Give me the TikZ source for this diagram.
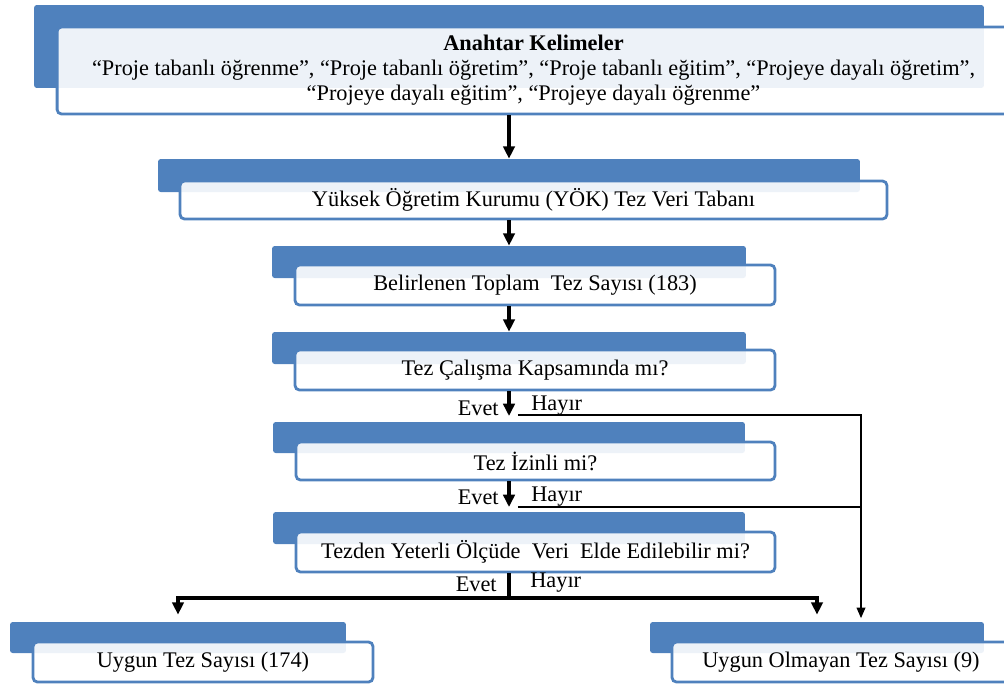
\documentclass[tikz,border=0pt]{standalone}
\usepackage{fontspec}
\setmainfont{Liberation Serif}
\usepackage{tikz}
\usetikzlibrary{arrows.meta}
\definecolor{kutumavi}{HTML}{4F81BD}
\tikzset{
  arka/.style={fill=kutumavi, rounded corners=1.5pt, inner sep=0pt},
  kutu/.style={draw=kutumavi, line width=1.6pt, rounded corners=2.5pt, fill=white, fill opacity=0.9, text opacity=1, inner sep=0pt, align=center, font=\fontsize{12.7}{14.2}\selectfont},
  ok/.style={line width=2pt, -{Triangle[length=7pt,width=6.5pt]}},
  kalin/.style={line width=2pt},
  ince/.style={line width=0.7pt},
  etiket/.style={font=\fontsize{12.7}{14}\selectfont, inner sep=0pt}
}

\begin{document}
\begin{tikzpicture}[x=0.02cm,y=-0.02cm]
\useasboundingbox (0,0) rectangle (1004,684);
\node[arka, minimum width=19cm, minimum height=1.66cm] (a1) at (509,46.5) {};
\node[arka, minimum width=14.04cm, minimum height=0.66cm] (a2) at (509,175.5) {};
\node[arka, minimum width=9.48cm, minimum height=0.64cm] (a3) at (509,262) {};
\node[arka, minimum width=9.48cm, minimum height=0.64cm] (a4) at (509,348) {};
\node[arka, minimum width=9.44cm, minimum height=0.62cm] (a5) at (509,437.5) {};
\node[arka, minimum width=9.44cm, minimum height=0.64cm] (a6) at (509,528) {};
\node[arka, minimum width=6.72cm, minimum height=0.62cm] (a7) at (178,637.5) {};
\node[arka, minimum width=6.68cm, minimum height=0.62cm] (a8) at (817,637.5) {};

\node[kutu, minimum width=19.06cm, minimum height=1.74cm] (k1) at (533.5,70.5) {\textbf{Anahtar Kelimeler}\\
  “Proje tabanlı öğrenme”, “Proje tabanlı öğretim”, “Proje tabanlı eğitim”, “Projeye dayalı öğretim”,\\
  “Projeye dayalı eğitim”, “Projeye dayalı öğrenme”};
\node[kutu, minimum width=14.14cm, minimum height=0.76cm] (k2) at (533.5,200) {Yüksek Öğretim Kurumu (YÖK) Tez Veri Tabanı};
\node[kutu, minimum width=9.6cm, minimum height=0.8cm] (k3) at (535,285) {Belirlenen Toplam~ Tez Sayısı (183)};
\node[kutu, minimum width=9.6cm, minimum height=0.8cm] (k4) at (535,370) {Tez Çalışma Kapsamında mı?};
\node[kutu, minimum width=9.58cm, minimum height=0.76cm] (k5) at (535.5,461) {Tez İzinli mi?};
\node[kutu, minimum width=9.58cm, minimum height=0.8cm] (k6) at (535.5,552) {Tezden Yeterli Ölçüde~ Veri~ Elde Edilebilir mi?};
\node[kutu, minimum width=6.8cm, minimum height=0.8cm] (k7) at (203,662) {Uygun Tez Sayısı (174)};
\node[kutu, minimum width=6.76cm, minimum height=0.8cm] (k8) at (841,662) {Uygun Olmayan Tez Sayısı (9)};

\coordinate (h1) at (509,416);
\coordinate (h2) at (509,507);
\coordinate (h3) at (509,598);
\coordinate (sag) at (861,415);

\draw[ok] (a1 |- k1.south) -- (a2.north);
\draw[ok] (a2 |- k2.south) -- (a3.north);
\draw[ok] (a3 |- k3.south) -- (a4.north);
\draw[ok] (a4 |- k4.south) -- (h1);
\draw[ok] (a5 |- k5.south) -- (h2);
\draw[kalin] (a6 |- k6.south) -- (h3);
\draw[ok, shorten >=4pt] (h3) -| (a7.north);
\draw[ok, shorten >=4pt] (h3) -| (a8.north);

\draw[ince, -{Triangle[length=6pt,width=5pt]}, shorten >=2pt] ([xshift=5pt]h1 |- sag) -- (sag) -- (sag |- a8.north);
\draw[ince] ([xshift=5pt]h2) -- (sag |- h2);

\node[etiket, anchor=east] (e1) at (499,408) {Evet};
\node[etiket, anchor=west] (y1) at (531,406) {Hayır};
\node[etiket, anchor=east] (e2) at (499,497) {Evet};
\node[etiket, anchor=west] (y2) at (531,497) {Hayır};
\node[etiket, anchor=east] (e3) at (497,584) {Evet};
\node[etiket, anchor=west] (y3) at (530,583) {Hayır};
\end{tikzpicture}
\end{document}
